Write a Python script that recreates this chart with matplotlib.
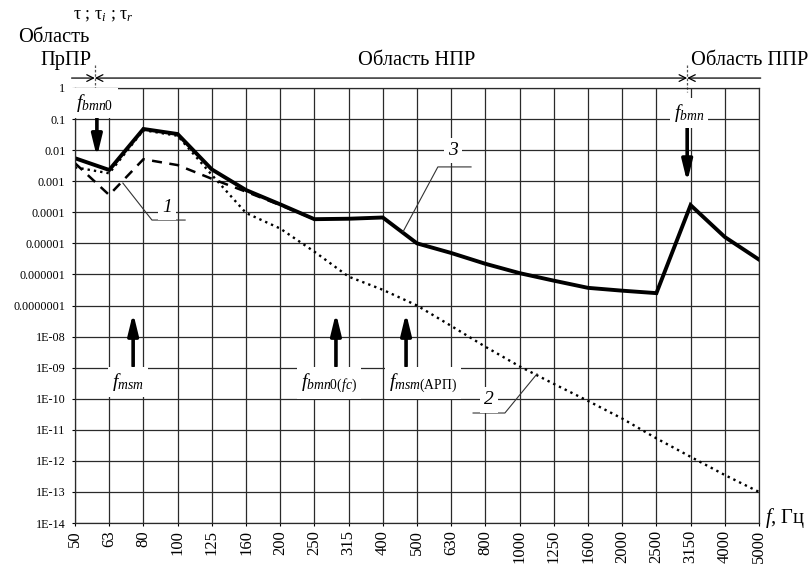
import matplotlib
matplotlib.use('Agg')
import matplotlib.pyplot as plt
from matplotlib.ticker import NullLocator
import numpy as np

plt.rcParams['font.family'] = 'Liberation Serif'
plt.rcParams['mathtext.fontset'] = 'custom'
plt.rcParams['mathtext.rm'] = 'Liberation Serif'
plt.rcParams['mathtext.it'] = 'Liberation Serif:italic'

# Frequencies (1/3 octave bands), Hz
freqs = [50, 63, 80, 100, 125, 160, 200, 250, 315, 400, 500, 630, 800,
         1000, 1250, 1600, 2000, 2500, 3150, 4000, 5000]

# curve 1 (dashed), runs only up to 250 Hz where it merges with curve 3
curve_1 = [3.8e-3, 3.6e-4, 5.1e-3, 3.3e-3, 1.2e-3, 4.6e-4, 1.7e-4, 6.0e-5]

# curve 2 (dotted)
curve_2 = [2.8e-3, 1.8e-3, 4.4e-2, 2.9e-2, 1.6e-3, 9.5e-5, 3.0e-5, 5.4e-6,
           8.5e-7, 3.2e-7, 1.0e-7, 2.2e-8, 4.7e-9, 1.1e-9, 3.0e-10, 8.5e-11,
           2.3e-11, 5.3e-12, 1.35e-12, 3.5e-13, 1.0e-13]

# curve 3 (solid)
curve_3 = [5.5e-3, 2.3e-3, 4.8e-2, 3.3e-2, 2.4e-3, 5.2e-4, 1.8e-4, 6.0e-5,
           6.2e-5, 6.8e-5, 1.0e-5, 4.9e-6, 2.2e-6, 1.1e-6, 6.3e-7, 3.7e-7,
           3.0e-7, 2.5e-7, 1.7e-4, 1.6e-5, 3.0e-6]

y_labels = ['1', '0.1', '0.01', '0.001', '0.0001', '0.00001', '0.000001',
            '0.0000001', '1E-08', '1E-09', '1E-10', '1E-11', '1E-12',
            '1E-13', '1E-14']

W, H = 808, 568
fig = plt.figure(figsize=(W / 100, H / 100), dpi=100)
ax = fig.add_axes([75 / W, 1 - 523 / H, (759 - 75) / W, (523 - 88) / H])

x = np.arange(len(freqs))
ax.set_yscale('log')
ax.set_xlim(0, len(freqs) - 1)
ax.set_ylim(1e-14, 1)
ax.set_xticks(x)
ax.set_xticklabels([str(f) for f in freqs], rotation=90, fontsize=12)
ax.set_yticks([10.0 ** -k for k in range(len(y_labels))])
ax.set_yticklabels(y_labels, fontsize=8.7)
ax.yaxis.set_minor_locator(NullLocator())
ax.tick_params(length=2, width=0.8, pad=3)
ax.tick_params(axis='y', pad=5)
ax.grid(True, color='#2a2a2a', lw=0.9)
for s in ax.spines.values():
    s.set_color('#2a2a2a')
    s.set_linewidth(0.9)

ax.plot(x[:len(curve_1)], curve_1, color='k', ls=(0, (4, 3)), lw=1.8)
ax.plot(x, curve_2, color='k', ls=(0, (1, 1.7)), lw=1.7)
ax.plot(x, curve_3, color='k', lw=2.8, solid_joinstyle='miter')


def L(v):
    return 10.0 ** v


box = dict(fc='white', ec='none', pad=3)
big = 14
region = 14.8

# frequency markers with thick arrows
ax.text(0.58, L(-0.48), r'$f_{bmn\mathrm{0}}$', fontsize=big, ha='center',
        va='center', bbox=box, zorder=4)
ax.text(17.95, L(-0.80), r'$f_{bmn}$', fontsize=big, ha='center',
        va='center', bbox=box, zorder=4)
ax.text(1.55, L(-9.46), r'$f_{msm}$', fontsize=big, ha='center',
        va='center', bbox=box, zorder=4)
ax.text(7.43, L(-9.49), r'$f_{bmn\mathrm{0(}fc\mathrm{)}}$', fontsize=big,
        ha='center', va='center', bbox=box, zorder=4)
ax.text(10.18, L(-9.49), r'$f_{msm\mathrm{(АРП)}}$', fontsize=big,
        ha='center', va='center', bbox=box, zorder=4)

thick = dict(arrowstyle='-|>,head_width=0.22,head_length=0.9', color='k',
             lw=2.6, shrinkA=0, shrinkB=0, mutation_scale=14)
ax.annotate('', xy=(0.64, L(-2.22)), xytext=(0.64, L(-0.93)),
            arrowprops=thick)
ax.annotate('', xy=(17.9, L(-3.03)), xytext=(17.9, L(-1.19)),
            arrowprops=thick)
for xi in (1.7, 7.63, 9.68):
    ax.annotate('', xy=(xi, L(-7.24)), xytext=(xi, L(-8.95)),
                arrowprops=thick)

# curve numbers with leaders
thin = dict(color='#333', lw=0.8)
ax.plot([1.40, 2.25, 3.22], [L(-3.06), L(-4.25), L(-4.25)], **thin)
ax.text(2.69, L(-3.83), '1', fontsize=big, style='italic', ha='center',
        va='center', bbox=box, zorder=4)
ax.plot([9.59, 10.61, 11.58], [L(-4.63), L(-2.54), L(-2.54)], **thin)
ax.text(11.05, L(-2.0), '3', fontsize=big, style='italic', ha='center',
        va='center', bbox=box, zorder=4)
ax.plot([13.51, 12.57, 11.64], [L(-9.2), L(-10.46), L(-10.46)], **thin)
ax.text(12.1, L(-10.04), '2', fontsize=big, style='italic', ha='center',
        va='center', bbox=box, zorder=4)

# region bar above the plot
ya = L(0.32)
arr = dict(color='k', lw=0.9, shrinkA=0, shrinkB=0, mutation_scale=12)
ax.annotate('', xy=(0.58, ya), xytext=(-0.1, ya),
            arrowprops=dict(arrowstyle='->', **arr), annotation_clip=False)
ax.annotate('', xy=(0.58, ya), xytext=(17.9, ya),
            arrowprops=dict(arrowstyle='<->', **arr), annotation_clip=False)
ax.annotate('', xy=(17.9, ya), xytext=(20.05, ya),
            arrowprops=dict(arrowstyle='->', **arr), annotation_clip=False)
for xs in (0.58, 17.9):
    ax.plot([xs, xs], [L(0.74), L(-0.13)], color='#555', lw=0.9,
            ls=(0, (2, 1.5)), clip_on=False)

ax.text(10.0, L(0.87), 'Область НПР', fontsize=region, ha='center',
        va='center')
ax.text(18.0, L(0.87), 'Область ППР', fontsize=region, ha='left',
        va='center')
fig.text(18 / W, 1 - 38 / H, 'Область', fontsize=region, ha='left',
         va='center')
fig.text(40 / W, 1 - 61 / H, 'ПрПР', fontsize=region, ha='left',
         va='center')
fig.text(73 / W, 1 - 16 / H, r'τ ; τ$_i$ ; τ$_r$', fontsize=13, ha='left',
         va='center')
ax.text(20.18, L(-13.84), r'$f$, Гц', fontsize=region, ha='left',
        va='center')

fig.savefig('out.png', dpi=100)
